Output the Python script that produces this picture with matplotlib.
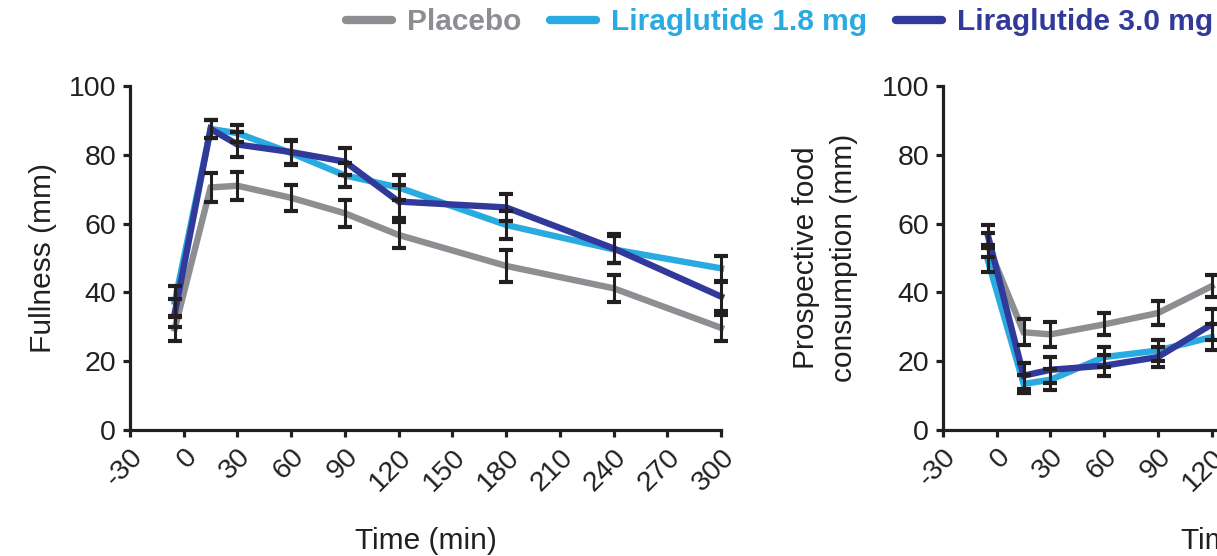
import matplotlib
matplotlib.use("Agg")
import matplotlib.pyplot as plt
from matplotlib.lines import Line2D

# ---------------- data ----------------
series_names = ["Placebo", "Liraglutide 1.8 mg", "Liraglutide 3.0 mg"]
series_colors = ["#8C8E91", "#29ABE2", "#31399A"]

time_full = [-5, 15, 30, 60, 90, 120, 180, 240, 300]
fullness_placebo = [29.5, 70.5, 71.0, 67.5, 63.0, 56.7, 47.7, 41.2, 29.7]
fullness_lira18 = [37.3, 87.5, 86.3, 80.5, 74.0, 70.5, 59.6, 52.5, 47.0]
fullness_lira30 = [34.0, 87.5, 83.0, 80.8, 78.0, 66.4, 64.7, 52.8, 38.8]
fullness_se_placebo = [3.5, 4.3, 4.0, 3.8, 3.9, 3.9, 4.7, 3.9, 3.8]
fullness_se_lira18 = [4.5, 2.5, 2.5, 3.5, 3.5, 3.7, 4.2, 4.0, 3.7]
fullness_se_lira30 = [4.0, 2.5, 3.5, 3.5, 3.9, 4.8, 4.0, 4.2, 4.3]

time_pfc = [-5, 15, 30, 60, 90, 120]
pfc_placebo = [53.7, 28.4, 27.8, 30.7, 34.0, 41.8]
pfc_lira18 = [49.4, 13.4, 14.6, 21.2, 23.1, 27.0]
pfc_lira30 = [56.7, 15.8, 17.5, 18.7, 21.2, 30.7]
pfc_se_placebo = [3.5, 3.8, 3.6, 3.2, 3.4, 3.2]
pfc_se_lira18 = [3.5, 2.5, 3.0, 3.0, 3.0, 3.8]
pfc_se_lira30 = [3.0, 3.8, 3.7, 3.0, 3.0, 4.5]

x_ticks = [-30, 0, 30, 60, 90, 120, 150, 180, 210, 240, 270, 300]
y_ticks = [0, 20, 40, 60, 80, 100]

# ---------------- style ----------------
plt.rcParams['font.family'] = ['Liberation Sans', 'DejaVu Sans']
FS_TICK = 20.5
FS_LAB = 21.5
INK = "#231F20"

fig = plt.figure(figsize=(12.17, 5.56), dpi=100)

W, H = 1217.0, 556.0
ax_w = 591 / W
ax_b = (H - 430) / H
ax_h = 344 / H
ax1 = fig.add_axes([130 / W, ax_b, ax_w, ax_h])
ax2 = fig.add_axes([943 / W, ax_b, ax_w, ax_h])


def draw(ax, t, vals, ses, ylabel, ylabelpad, linesp):
    for v, se, c in zip(vals, ses, series_colors):
        ax.plot(t, v, color=c, lw=4.6, solid_joinstyle='miter', zorder=2, clip_on=False)
    for v, se in zip(vals, ses):
        ax.errorbar(t, v, yerr=se, fmt='none', ecolor=INK, elinewidth=2.2,
                    capsize=4.8, capthick=3.0, zorder=3, clip_on=False)
    ax.set_xlim(-30, 300)
    ax.set_ylim(0, 100)
    ax.set_xticks(x_ticks)
    ax.set_yticks(y_ticks)
    ax.set_xticklabels([str(x) for x in x_ticks], rotation=45, ha='right',
                       va='top', rotation_mode='anchor', fontsize=FS_TICK, color=INK)
    ax.set_yticklabels([str(y) for y in y_ticks], fontsize=FS_TICK, color=INK)
    for s in ['top', 'right']:
        ax.spines[s].set_visible(False)
    for s in ['left', 'bottom']:
        ax.spines[s].set_linewidth(2.3)
        ax.spines[s].set_color(INK)
    ax.tick_params(axis='both', direction='out', length=5, width=2.3, color=INK)
    ax.tick_params(axis='x', pad=5)
    ax.tick_params(axis='y', pad=5)
    ax.set_xlabel("Time (min)", fontsize=FS_LAB, color=INK, labelpad=22)
    ax.set_ylabel(ylabel, fontsize=FS_LAB, color=INK, labelpad=ylabelpad,
                  linespacing=linesp)


draw(ax1, time_full,
     [fullness_placebo, fullness_lira18, fullness_lira30],
     [fullness_se_placebo, fullness_se_lira18, fullness_se_lira30],
     "Fullness (mm)", 8, 1.0)
draw(ax2, time_pfc,
     [pfc_placebo, pfc_lira18, pfc_lira30],
     [pfc_se_placebo, pfc_se_lira18, pfc_se_lira30],
     "Prospective food\nconsumption (mm)", 17, 1.45)

# shift the clipped right-hand x label a little, as in the reference
ax2.xaxis.set_label_coords(0.522, -0.282)

handles = [Line2D([0], [0], color=c, lw=6, solid_capstyle='round') for c in series_colors]
leg = fig.legend(handles, series_names, loc='center right',
                 bbox_to_anchor=(1213 / W, 1 - 22 / H), ncol=3, frameon=False,
                 prop={'weight': 'bold', 'size': 21.5}, labelcolor=series_colors,
                 handlelength=1.55, handletextpad=0.5, columnspacing=0.95,
                 borderaxespad=0, borderpad=0)

fig.savefig("out.png", dpi=100)
